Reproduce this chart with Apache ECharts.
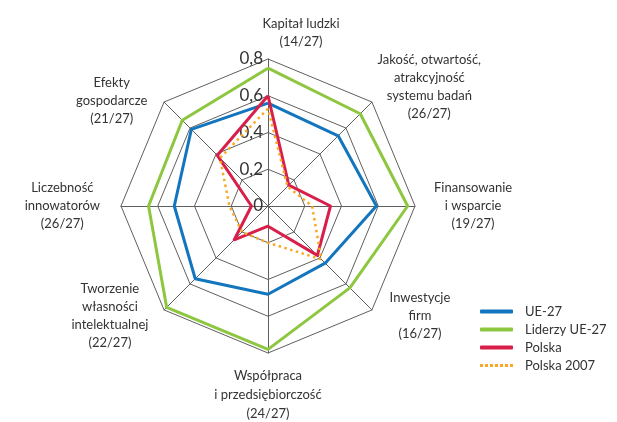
<!DOCTYPE html>
<html>
<head>
<meta charset="utf-8">
<script src="https://cdn.jsdelivr.net/npm/echarts@6/dist/echarts.min.js"></script>
<style>
html,body{margin:0;padding:0;background:#fff;}
#chart{width:617px;height:422px;}
</style>
</head>
<body>
<div id="chart"></div>
<script>
// Indicators listed counter-clockwise from the top (ECharts radar order)
const indicatorNames = [
  'Kapitał ludzki\n(14/27)',
  'Efekty\ngospodarcze\n(21/27)',
  'Liczebność\ninnowatorów\n(26/27)',
  'Tworzenie\nwłasności\nintelektualnej\n(22/27)',
  'Współpraca\ni przedsiębiorczość\n(24/27)',
  'Inwestycje\nfirm\n(16/27)',
  'Finansowanie\ni wsparcie\n(19/27)',
  'Jakość, otwartość,\natrakcyjność\nsystemu badań\n(26/27)'
];
const seriesNames = ['UE-27', 'Liderzy UE-27', 'Polska', 'Polska 2007'];
const ue27 =      [0.56, 0.59, 0.51, 0.56, 0.48, 0.44, 0.59, 0.54];
const liderzy =   [0.75, 0.66, 0.65, 0.78, 0.78, 0.63, 0.76, 0.71];
const polska =    [0.60, 0.39, 0.09, 0.26, 0.11, 0.38, 0.34, 0.16];
const polska2007= [0.53, 0.37, 0.21, 0.20, 0.20, 0.41, 0.24, 0.15];
const tickValues = [0, 0.2, 0.4, 0.6, 0.8];
const maxValue = 0.8;

const FONT = 'Lato';
const TXT = '#333';
const colors = ['#1375bd', '#8dc63f', '#d81f4a', '#f9a825'];

// per-label fine placement (padding left/right, spacer before/after)
const labelTweak = [
  {pl: 66, pr: 0, before: 0, after: 0, lh: 18},
  {pl: 0, pr: 11, before: 8, after: 0, lh: 18},
  {pl: 0, pr: 13, before: 0, after: 0, lh: 18},
  {pl: 0, pr: 10, before: 0, after: 0, lh: 18},
  {pl: 0, pr: 0, before: 5, after: 0, lh: 19},
  {pl: 12, pr: 0, before: 0, after: 0, lh: 18},
  {pl: 11, pr: 0, before: 0, after: 0, lh: 18},
  {pl: 0, pr: 0, before: 0, after: 20, lh: 18}
];
const rich = {};
labelTweak.forEach((t, i) => {
  rich['n' + i] = {align: 'center', padding: [0, t.pr, 0, t.pl], lineHeight: t.lh,
                   fontSize: 13, color: TXT, fontFamily: FONT};
  rich['b' + i] = {lineHeight: t.before || 1, fontSize: 1};
  rich['a' + i] = {lineHeight: t.after || 1, fontSize: 1};
});

const chart = echarts.init(document.getElementById('chart'), null, {renderer: 'canvas'});
const option = {
  backgroundColor: '#fff',
  color: colors,
  animation: false,
  radar: {
    center: [268, 206],
    radius: 147,
    startAngle: 90,
    shape: 'polygon',
    splitNumber: 4,
    nameGap: 8,
    indicator: indicatorNames.map(n => ({name: n, min: 0, max: maxValue})),
    axisName: {
      color: TXT, fontFamily: FONT, fontSize: 13,
      formatter: function (name) {
        const i = indicatorNames.indexOf(name);
        const t = labelTweak[i];
        let s = name.split('\n').map(l => '{n' + i + '|' + l + '}').join('\n');
        if (t.before) s = '{b' + i + '| }\n' + s;
        if (t.after) s = s + '\n{a' + i + '| }';
        return s;
      },
      rich: rich
    },
    splitLine: {lineStyle: {color: '#5f5f5f', width: 1}},
    splitArea: {show: false},
    axisLine: {lineStyle: {color: '#5f5f5f', width: 1}},
    axisTick: {show: false},
    axisLabel: {show: false}
  },
  grid: {left: 268, top: 59, height: 147, width: 20},
  xAxis: {type: 'value', show: false},
  yAxis: {
    type: 'value', min: 0, max: maxValue, interval: 0.2, position: 'left',
    axisLine: {show: false}, axisTick: {show: false}, splitLine: {show: false},
    axisLabel: {
      margin: 5, fontSize: 17, color: TXT, fontFamily: FONT,
      padding: [0, 0, 10, 0],
      formatter: function (v) {
        const m = tickValues.find(t => Math.abs(t - v) < 1e-9);
        return m === 0 ? '0' : m.toFixed(1).replace('.', ',');
      }
    }
  },
  legend: {
    orient: 'vertical',
    left: 475, top: 300,
    itemWidth: 33, itemHeight: 4, itemGap: 5,
    textStyle: {color: TXT, fontSize: 13, fontFamily: FONT, padding: [0, 0, 0, 7]},
    data: [
      {name: seriesNames[0], icon: 'roundRect'},
      {name: seriesNames[1], icon: 'roundRect'},
      {name: seriesNames[2], icon: 'roundRect'},
      {name: seriesNames[3], icon: 'path://M0,0h3v3h-3zM5,0h3v3h-3zM10,0h3v3h-3zM15,0h3v3h-3zM20,0h3v3h-3zM25,0h3v3h-3zM30,0h3v3h-3z'}
    ]
  },
  series: [
    {type: 'radar', name: seriesNames[0], symbol: 'none', z: 2,
     lineStyle: {color: colors[0], width: 3}, itemStyle: {color: colors[0]},
     data: [{value: ue27, name: seriesNames[0]}]},
    {type: 'radar', name: seriesNames[1], symbol: 'none', z: 2,
     lineStyle: {color: colors[1], width: 3}, itemStyle: {color: colors[1]},
     data: [{value: liderzy, name: seriesNames[1]}]},
    {type: 'radar', name: seriesNames[2], symbol: 'none', z: 3,
     lineStyle: {color: colors[2], width: 3}, itemStyle: {color: colors[2]},
     data: [{value: polska, name: seriesNames[2]}]},
    {type: 'radar', name: seriesNames[3], symbol: 'none', z: 4,
     lineStyle: {color: colors[3], width: 2.5, type: [2.5, 3.5]}, itemStyle: {color: colors[3]},
     data: [{value: polska2007, name: seriesNames[3]}]}
  ]
};
chart.setOption(option);
</script>
</body>
</html>
